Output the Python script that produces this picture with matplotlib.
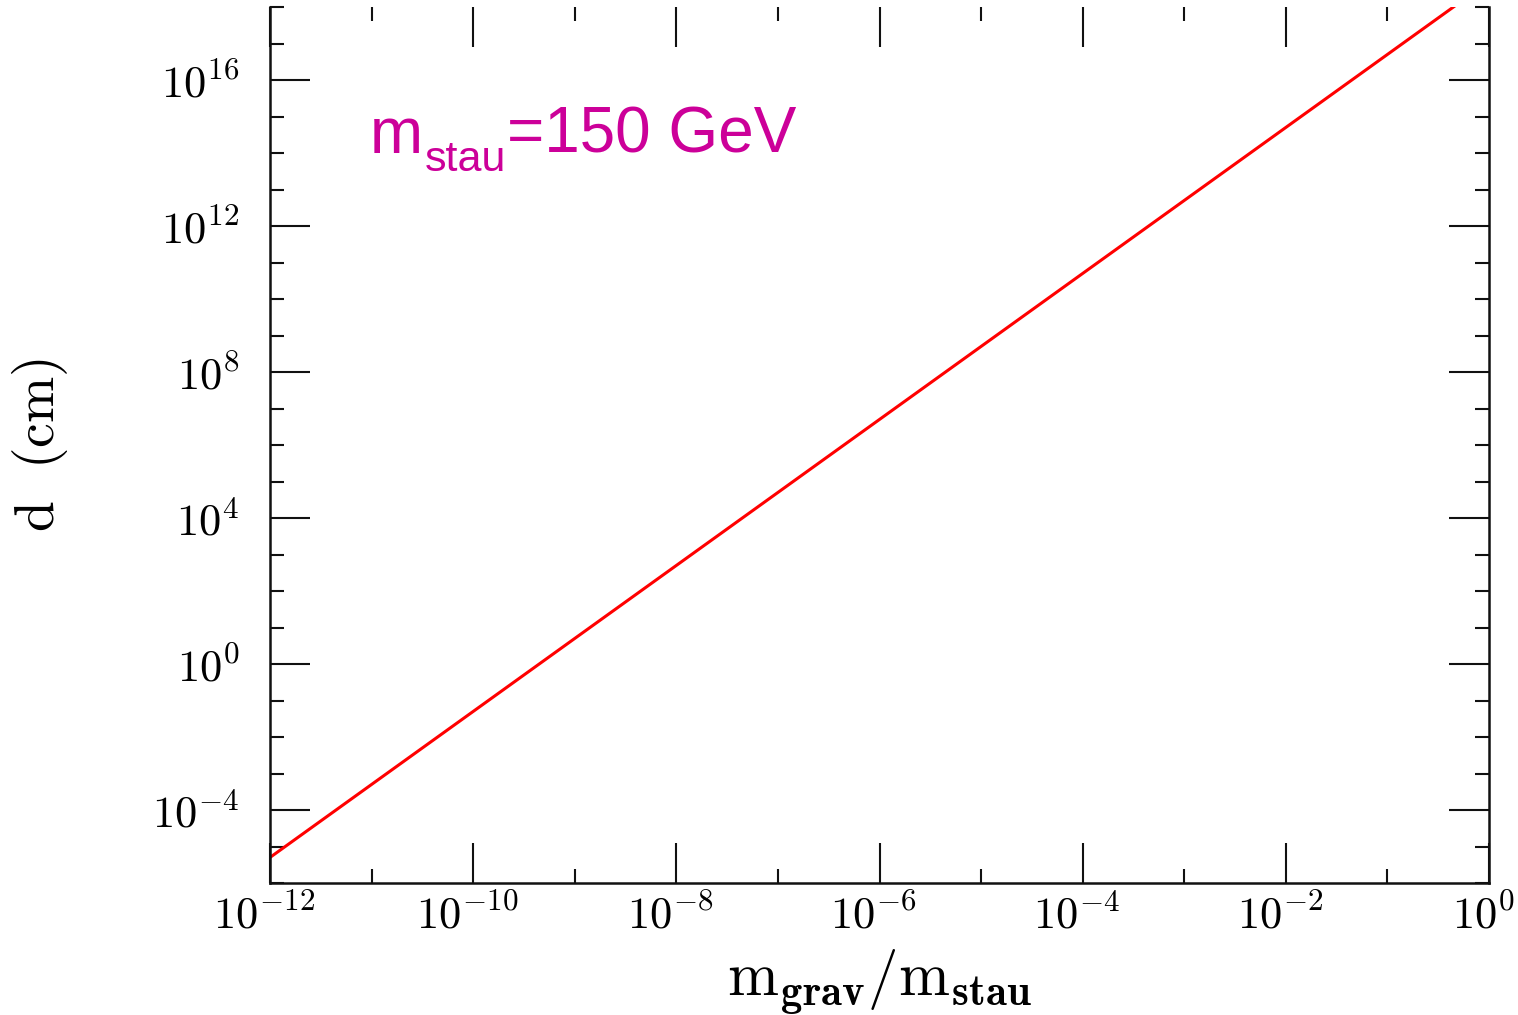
import numpy as np
import matplotlib
matplotlib.use('Agg')
import matplotlib.pyplot as plt
import matplotlib.transforms as mtransforms
from matplotlib.ticker import FixedLocator, FuncFormatter, NullFormatter

# decay length vs gravitino/stau mass ratio (slope 2 in log-log)
mass_ratio = [1e-12, 1e-6, 1e0]
decay_len = [10**-5.3, 10**6.7, 10**18.7]

x_major_exp = [-12, -10, -8, -6, -4, -2, 0]
x_minor_exp = [-11, -9, -7, -5, -3, -1]
y_major_exp = [-4, 0, 4, 8, 12, 16]
y_minor_exp = [e for e in range(-6, 19) if e not in y_major_exp]

plt.rcParams['mathtext.fontset'] = 'cm'

def pow10(v, pos):
    return r'$\mathrm{10^{%d}}$' % int(round(np.log10(v)))

fig = plt.figure(figsize=(15.18, 10.15), dpi=100)
ax = fig.add_axes([270 / 1518, 1 - 883 / 1015, 1219 / 1518, 876 / 1015])

ax.plot(mass_ratio, decay_len, color='#ff0000', lw=2.2)

ax.set_xscale('log')
ax.set_yscale('log')
ax.set_xlim(1e-12, 1e0)
ax.set_ylim(1e-6, 1e18)

ax.xaxis.set_major_locator(FixedLocator([10.0**e for e in x_major_exp]))
ax.xaxis.set_minor_locator(FixedLocator([10.0**e for e in x_minor_exp]))
ax.yaxis.set_major_locator(FixedLocator([10.0**e for e in y_major_exp]))
ax.yaxis.set_minor_locator(FixedLocator([10.0**e for e in y_minor_exp]))
ax.xaxis.set_major_formatter(FuncFormatter(pow10))
ax.yaxis.set_major_formatter(FuncFormatter(pow10))
ax.xaxis.set_minor_formatter(NullFormatter())
ax.yaxis.set_minor_formatter(NullFormatter())

ax.tick_params(which='both', direction='in', top=True, right=True, width=1.5, color='#111111')
ax.tick_params(which='major', length=29)
ax.tick_params(which='minor', length=10)
ax.tick_params(axis='x', which='major', pad=8, labelsize=32)
ax.tick_params(axis='y', which='major', pad=22, labelsize=32)

# x tick labels sit a little left of their ticks in the reference
shift = mtransforms.ScaledTranslation(-6 / 100, 0, fig.dpi_scale_trans)
for lbl in ax.get_xticklabels():
    lbl.set_transform(lbl.get_transform() + shift)

ax.spines['top'].set_visible(False)
for s in ['left', 'right', 'bottom']:
    ax.spines[s].set_linewidth(1.8)
    ax.spines[s].set_color('#111111')

ax.set_xlabel(r'$\mathrm{m}_{\mathbf{grav}}/\mathrm{m}_{\mathbf{stau}}$', fontsize=44)
ax.xaxis.set_label_coords(0.5, -0.073)
ax.set_ylabel(r'$\mathrm{d\ \ (cm)}$', fontsize=40)
ax.yaxis.set_label_coords(-0.164, 0.5)

# magenta annotation: m, lowered subscript, then the rest
magenta = '#cc0099'
t1 = fig.text(370 / 1518, 1 - 153 / 1015, 'm', color=magenta, fontsize=46,
              family='Liberation Sans', va='baseline')
t2 = fig.text(0, 0, 'stau', color=magenta, fontsize=31, family='Liberation Sans')
t2.remove()
t2 = ax.annotate('stau', xy=(1, 0), xycoords=t1, xytext=(1, -3.3), textcoords='offset points',
                 color=magenta, fontsize=31, family='Liberation Sans', va='baseline',
                 annotation_clip=False)
ax.annotate('=150 GeV', xy=(1, 0), xycoords=t2, xytext=(1, 19.6), textcoords='offset points',
            color=magenta, fontsize=46, family='Liberation Sans', va='baseline',
            annotation_clip=False)

fig.savefig('out.png', dpi=100)
